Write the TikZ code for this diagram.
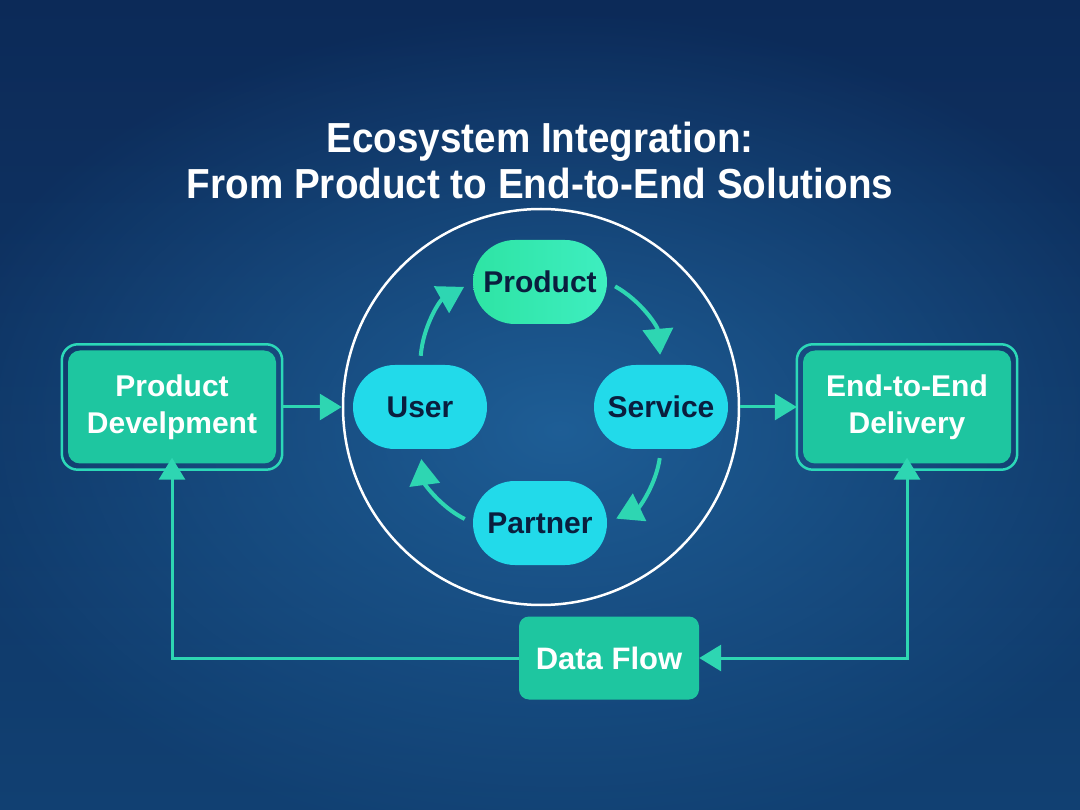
\documentclass[tikz,border=0pt]{standalone}
\usepackage{fontspec}
\setmainfont{Liberation Sans}
\newfontfamily\titleFont{Liberation Sans}[FakeStretch=0.92]
\usetikzlibrary{shapes.misc, arrows.meta, fadings}
\definecolor{bgTop}{RGB}{12,42,88}
\definecolor{bgMid}{RGB}{22,78,132}
\definecolor{bgBottom}{RGB}{17,64,114}
\definecolor{bgGlow}{RGB}{34,104,162}
\definecolor{boxTeal}{RGB}{30,198,160}
\definecolor{frameTeal}{RGB}{44,216,184}
\definecolor{arrowTeal}{RGB}{46,214,178}
\definecolor{pillGreen}{RGB}{46,228,164}
\definecolor{pillGreenLight}{RGB}{62,238,192}
\definecolor{pillCyan}{RGB}{34,218,234}
\definecolor{pillText}{RGB}{10,30,62}
\tikzfading[name=glowFade, inner color=transparent!0, outer color=transparent!100]
\tikzstyle{canvas} = [x=1pt, y=-1pt]
\tikzstyle{titleText} = [text=white, align=center, font=\titleFont\fontsize{42}{46}\selectfont\bfseries]
\tikzstyle{boxStyle} = [fill=boxTeal, rounded corners=12pt, inner sep=0pt, text=white, align=center, minimum width=208pt, minimum height=113pt, font=\fontsize{30}{37}\selectfont\bfseries]
\tikzstyle{frameLine} = [color=frameTeal, line width=2.5pt, rounded corners=16pt]
\tikzstyle{flowBoxStyle} = [fill=boxTeal, rounded corners=10pt, inner sep=0pt, text=white, minimum width=180pt, minimum height=83pt, font=\fontsize{31}{37}\selectfont\bfseries]
\tikzstyle{pillStyle} = [rounded rectangle, inner sep=0pt, minimum width=134pt, minimum height=84pt, text=pillText, font=\fontsize{30}{37}\selectfont\bfseries]
\tikzstyle{ringStyle} = [circle, draw=white, line width=2.5pt, minimum size=396pt, inner sep=0pt]
\tikzstyle{flowLine} = [color=arrowTeal, line width=3pt, -{Triangle[length=22pt, width=26pt]}]
\tikzstyle{cycleLine} = [color=arrowTeal, line width=4pt, -{Triangle[length=26pt, width=30pt]}, shorten <=9pt, shorten >=10pt]
\newcommand{\boxFrame}[1]{\draw [frameLine] ([shift={(-6,-6)}]#1.north west) rectangle ([shift={(6,6)}]#1.south east);}

\begin{document}
\begin{tikzpicture}[canvas]
  \useasboundingbox (0,0) rectangle (1080,810);
  \shade [top color=bgTop, middle color=bgMid, bottom color=bgBottom] (0,0) rectangle (1080,810);
  \fill [bgGlow, path fading=glowFade, opacity=.8] (560,430) ellipse (640 and 420);

  \node [titleText] (title) at (540,160) {Ecosystem Integration:\\From Product to End-to-End Solutions};

  \node [boxStyle] (dev) at (172,407) {Product\\Develpment};
  \boxFrame{dev}
  \node [boxStyle] (delivery) at (907,407) {End-to-End\\Delivery};
  \boxFrame{delivery}
  \node [flowBoxStyle] (dataflow) at (609,658) {Data Flow};

  \node [ringStyle] (ring) at (541,407) {};
  \node [pillStyle, left color=pillGreen, right color=pillGreenLight] (product) at (540,282) {Product};
  \node [pillStyle, fill=pillCyan] (user) at (420,407) {User};
  \node [pillStyle, fill=pillCyan] (service) at (661,407) {Service};
  \node [pillStyle, fill=pillCyan] (partner) at (540,523) {Partner};

  % the cycle inside the ring
  \draw [cycleLine] (user.north) to [bend left=28] (product.west);
  \draw [cycleLine] (product.east) to [bend left=28] (service.north);
  \draw [cycleLine] (service.south) to [bend left=28] (partner.east);
  \draw [cycleLine] (partner.west) to [bend left=28] (user.south);

  \draw [flowLine] ([xshift=6]dev.east) -- (ring.west);
  \draw [flowLine] (ring.east) -- ([xshift=-6]delivery.west);
  \draw [flowLine, {Triangle[length=22pt, width=26pt]}-{Triangle[length=22pt, width=26pt]}] (dataflow.east) -| ([yshift=6]delivery.south);
  \draw [flowLine] (dataflow.west) -| ([yshift=6]dev.south);
\end{tikzpicture}
\end{document}
